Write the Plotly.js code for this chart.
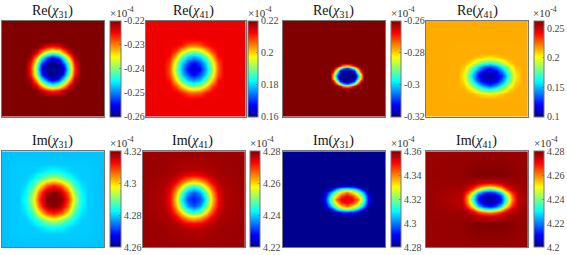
<!DOCTYPE html>
<html>
<head>
<meta charset="utf-8">
<script src="https://cdn.plot.ly/plotly-3.0.1.min.js"></script>
<style>html,body{margin:0;padding:0;background:#fff}</style>
</head>
<body>
<div id="chart" style="width:567px;height:255px"></div>
<script>
// Panel titles and colour-bar ticks
const titles = ['Re(<i>χ</i><sub>31</sub>)','Re(<i>χ</i><sub>41</sub>)','Re(<i>χ</i><sub>31</sub>)','Re(<i>χ</i><sub>41</sub>)',
                'Im(<i>χ</i><sub>31</sub>)','Im(<i>χ</i><sub>41</sub>)','Im(<i>χ</i><sub>31</sub>)','Im(<i>χ</i><sub>41</sub>)'];
const ranges = [[-0.26,-0.22],[0.16,0.22],[-0.32,-0.26],[0.1,0.263],[4.26,4.32],[4.22,4.28],[4.28,4.36],[4.2,4.28]];
const ticks = [[-0.26,-0.25,-0.24,-0.23,-0.22],[0.16,0.18,0.2,0.22],[-0.32,-0.3,-0.28,-0.26],[0.1,0.15,0.2,0.25],
               [4.26,4.28,4.3,4.32],[4.22,4.24,4.26,4.28],[4.28,4.3,4.32,4.34,4.36],[4.2,4.22,4.24,4.26,4.28]];

// Sample positions read across each map (same units as the map's axes)
const x1 = [0,23.8,29.3,34.8,40.3,45.8,51.3,56.8,62.3,67.8,73.3,78.8,102.5];
const y1 = [0,20.5,26,31.5,37,42.5,48,53.5,59,64.5,70,75.5,96];
const x2 = [0,17.6,23.6,29.6,35.6,41.6,47.6,53.6,59.6,65.6,71.6,77.6,100];
const y2 = [0,17.6,23.6,29.6,35.6,41.6,47.6,53.6,59.6,65.6,71.6,77.6,96];
const x3 = [0,46.6,50.1,53.5,57,60.4,63.8,67.2,70.7,74.1,77.6,81,102];
const y3 = [0,42.3,44.8,47.4,49.9,52.5,55,57.5,60.1,62.6,65.2,67.7,96];
const x4 = [0,31.6,38,44.4,50.8,57.2,63.6,70,76.4,82.8,89.2,95.6,102.3];
const y4 = [0,32.8,37.3,41.8,46.3,50.8,55.3,59.8,64.3,68.8,73.3,77.8,96];
const x5 = [0,16.5,23.5,30.5,37.5,44.5,51.5,58.5,65.5,72.5,79.5,86.5,102.5];
const y5 = [0,12.9,19.9,26.9,33.9,40.9,47.9,54.9,61.9,68.9,75.9,82.9,96];
const x6 = [0,21.3,27.3,33.3,39.3,45.3,51.3,57.3,63.3,69.3,75.3,81.3,102.3];
const y6 = [0,18,24,30,36,42,48,54,60,66,72,78,96];
const x7 = [0,36.7,42.1,47.5,52.9,58.3,63.7,69.1,74.5,79.9,85.3,90.7,102];
const y7 = [0,31.5,34.8,38.1,41.4,44.7,48,51.3,54.6,57.9,61.2,64.5,96];
const x8 = [0,35.6,41.2,46.8,52.4,58,63.6,69.2,74.8,80.4,86,91.6,102.3];
const y8 = [0,23.7,30.7,34.1,37.5,40.9,44.3,47.7,51.1,54.5,57.9,61.3,64.7,71.7,96];

// Map values (in units of 1e-4)
const z1 = [
[-0.22,-0.22,-0.22,-0.22,-0.22,-0.22,-0.22,-0.22,-0.22,-0.22,-0.22,-0.22,-0.22],
[-0.22,-0.22,-0.22,-0.22,-0.22,-0.22,-0.22,-0.22,-0.22,-0.22,-0.22,-0.22,-0.22],
[-0.22,-0.22,-0.22,-0.22,-0.222,-0.2252,-0.2264,-0.2252,-0.222,-0.22,-0.22,-0.22,-0.22],
[-0.22,-0.22,-0.22,-0.224,-0.232,-0.2388,-0.2412,-0.2388,-0.232,-0.224,-0.22,-0.22,-0.22],
[-0.22,-0.22,-0.222,-0.232,-0.244,-0.2528,-0.2568,-0.2528,-0.244,-0.232,-0.222,-0.22,-0.22],
[-0.22,-0.22,-0.2252,-0.2388,-0.2528,-0.26,-0.26,-0.26,-0.2528,-0.2388,-0.2252,-0.22,-0.22],
[-0.22,-0.22,-0.2264,-0.2412,-0.2568,-0.26,-0.26,-0.26,-0.2568,-0.2412,-0.2264,-0.22,-0.22],
[-0.22,-0.22,-0.2252,-0.2388,-0.2528,-0.26,-0.26,-0.26,-0.2528,-0.2388,-0.2252,-0.22,-0.22],
[-0.22,-0.22,-0.222,-0.232,-0.244,-0.2528,-0.2568,-0.2528,-0.244,-0.232,-0.222,-0.22,-0.22],
[-0.22,-0.22,-0.22,-0.224,-0.232,-0.2388,-0.2412,-0.2388,-0.232,-0.224,-0.22,-0.22,-0.22],
[-0.22,-0.22,-0.22,-0.22,-0.222,-0.2252,-0.2264,-0.2252,-0.222,-0.22,-0.22,-0.22,-0.22],
[-0.22,-0.22,-0.22,-0.22,-0.22,-0.22,-0.22,-0.22,-0.22,-0.22,-0.22,-0.22,-0.22],
[-0.22,-0.22,-0.22,-0.22,-0.22,-0.22,-0.22,-0.22,-0.22,-0.22,-0.22,-0.22,-0.22]];
const z2 = [
[0.2136,0.2136,0.2136,0.2136,0.2136,0.2136,0.2136,0.2136,0.2136,0.2136,0.2136,0.2136,0.2136],
[0.2136,0.2134,0.2134,0.2134,0.2134,0.2134,0.2134,0.2134,0.2134,0.2134,0.2134,0.2134,0.2136],
[0.2136,0.2134,0.2134,0.2134,0.2116,0.208,0.2068,0.208,0.2116,0.2134,0.2134,0.2134,0.2136],
[0.2136,0.2134,0.2134,0.2092,0.2008,0.1942,0.1912,0.1942,0.2008,0.2092,0.2134,0.2134,0.2136],
[0.2136,0.2134,0.2116,0.2008,0.1882,0.1804,0.1774,0.1804,0.1882,0.2008,0.2116,0.2134,0.2136],
[0.2136,0.2134,0.208,0.1942,0.1804,0.172,0.1672,0.172,0.1804,0.1942,0.208,0.2134,0.2136],
[0.2136,0.2134,0.2068,0.1912,0.1774,0.1672,0.1636,0.1672,0.1774,0.1912,0.2068,0.2134,0.2136],
[0.2136,0.2134,0.208,0.1942,0.1804,0.172,0.1672,0.172,0.1804,0.1942,0.208,0.2134,0.2136],
[0.2136,0.2134,0.2116,0.2008,0.1882,0.1804,0.1774,0.1804,0.1882,0.2008,0.2116,0.2134,0.2136],
[0.2136,0.2134,0.2134,0.2092,0.2008,0.1942,0.1912,0.1942,0.2008,0.2092,0.2134,0.2134,0.2136],
[0.2136,0.2134,0.2134,0.2134,0.2116,0.208,0.2068,0.208,0.2116,0.2134,0.2134,0.2134,0.2136],
[0.2136,0.2134,0.2134,0.2134,0.2134,0.2134,0.2134,0.2134,0.2134,0.2134,0.2134,0.2134,0.2136],
[0.2136,0.2136,0.2136,0.2136,0.2136,0.2136,0.2136,0.2136,0.2136,0.2136,0.2136,0.2136,0.2136]];
const z3 = [
[-0.26,-0.26,-0.26,-0.26,-0.26,-0.26,-0.26,-0.26,-0.26,-0.26,-0.26,-0.26,-0.26],
[-0.26,-0.26,-0.26,-0.26,-0.26,-0.26,-0.26,-0.26,-0.26,-0.26,-0.26,-0.26,-0.26],
[-0.26,-0.26,-0.26,-0.26,-0.266,-0.2762,-0.2798,-0.2762,-0.266,-0.26,-0.26,-0.26,-0.26],
[-0.26,-0.26,-0.26,-0.2732,-0.29,-0.302,-0.308,-0.302,-0.29,-0.2732,-0.26,-0.26,-0.26],
[-0.26,-0.26,-0.266,-0.29,-0.3128,-0.3188,-0.32,-0.3188,-0.3128,-0.29,-0.266,-0.26,-0.26],
[-0.26,-0.26,-0.2762,-0.302,-0.3188,-0.32,-0.32,-0.32,-0.3188,-0.302,-0.2762,-0.26,-0.26],
[-0.26,-0.26,-0.2798,-0.308,-0.32,-0.32,-0.32,-0.32,-0.32,-0.308,-0.2798,-0.26,-0.26],
[-0.26,-0.26,-0.2762,-0.302,-0.3188,-0.32,-0.32,-0.32,-0.3188,-0.302,-0.2762,-0.26,-0.26],
[-0.26,-0.26,-0.266,-0.29,-0.3128,-0.3188,-0.32,-0.3188,-0.3128,-0.29,-0.266,-0.26,-0.26],
[-0.26,-0.26,-0.26,-0.2732,-0.29,-0.302,-0.308,-0.302,-0.29,-0.2732,-0.26,-0.26,-0.26],
[-0.26,-0.26,-0.26,-0.26,-0.266,-0.2762,-0.2798,-0.2762,-0.266,-0.26,-0.26,-0.26,-0.26],
[-0.26,-0.26,-0.26,-0.26,-0.26,-0.26,-0.26,-0.26,-0.26,-0.26,-0.26,-0.26,-0.26],
[-0.26,-0.26,-0.26,-0.26,-0.26,-0.26,-0.26,-0.26,-0.26,-0.26,-0.26,-0.26,-0.26]];
const z4 = [
[0.2154,0.2154,0.2154,0.2154,0.2154,0.2154,0.2154,0.2154,0.2154,0.2154,0.2154,0.2154,0.2154],
[0.2154,0.2149,0.2149,0.2149,0.2149,0.2149,0.2149,0.2149,0.2149,0.2149,0.2149,0.2149,0.2154],
[0.2154,0.2149,0.2149,0.2149,0.2108,0.206,0.2035,0.206,0.2108,0.2149,0.2149,0.2149,0.2154],
[0.2154,0.2149,0.2149,0.2084,0.1913,0.1766,0.1685,0.1766,0.1913,0.2084,0.2149,0.2149,0.2154],
[0.2154,0.2149,0.2108,0.1913,0.1611,0.1391,0.1261,0.1391,0.1611,0.1913,0.2108,0.2149,0.2154],
[0.2154,0.2149,0.206,0.1766,0.1391,0.1147,0.1114,0.1147,0.1391,0.1766,0.206,0.2149,0.2154],
[0.2154,0.2149,0.2035,0.1685,0.1261,0.1114,0.1,0.1114,0.1261,0.1685,0.2035,0.2149,0.2154],
[0.2154,0.2149,0.206,0.1766,0.1391,0.1147,0.1114,0.1147,0.1391,0.1766,0.206,0.2149,0.2154],
[0.2154,0.2149,0.2108,0.1913,0.1611,0.1391,0.1261,0.1391,0.1611,0.1913,0.2108,0.2149,0.2154],
[0.2154,0.2149,0.2149,0.2084,0.1913,0.1766,0.1685,0.1766,0.1913,0.2084,0.2149,0.2149,0.2154],
[0.2154,0.2149,0.2149,0.2149,0.2108,0.206,0.2035,0.206,0.2108,0.2149,0.2149,0.2149,0.2154],
[0.2154,0.2149,0.2149,0.2149,0.2149,0.2149,0.2149,0.2149,0.2149,0.2149,0.2149,0.2149,0.2154],
[0.2154,0.2154,0.2154,0.2154,0.2154,0.2154,0.2154,0.2154,0.2154,0.2154,0.2154,0.2154,0.2154]];
const z5 = [
[4.2789,4.2789,4.2789,4.2789,4.2789,4.2789,4.2789,4.2789,4.2789,4.2789,4.2789,4.2789,4.2789],
[4.2789,4.2795,4.2795,4.2795,4.2795,4.2795,4.2795,4.2795,4.2795,4.2795,4.2795,4.2795,4.2789],
[4.2789,4.2795,4.2795,4.2795,4.2807,4.2822,4.2831,4.2822,4.2807,4.2795,4.2795,4.2795,4.2789],
[4.2789,4.2795,4.2795,4.2816,4.2858,4.2912,4.2942,4.2912,4.2858,4.2816,4.2795,4.2795,4.2789],
[4.2789,4.2795,4.2807,4.2858,4.2978,4.3074,4.311,4.3074,4.2978,4.2858,4.2807,4.2795,4.2789],
[4.2789,4.2795,4.2822,4.2912,4.3074,4.317,4.32,4.317,4.3074,4.2912,4.2822,4.2795,4.2789],
[4.2789,4.2795,4.2831,4.2942,4.311,4.32,4.32,4.32,4.311,4.2942,4.2831,4.2795,4.2789],
[4.2789,4.2795,4.2822,4.2912,4.3074,4.317,4.32,4.317,4.3074,4.2912,4.2822,4.2795,4.2789],
[4.2789,4.2795,4.2807,4.2858,4.2978,4.3074,4.311,4.3074,4.2978,4.2858,4.2807,4.2795,4.2789],
[4.2789,4.2795,4.2795,4.2816,4.2858,4.2912,4.2942,4.2912,4.2858,4.2816,4.2795,4.2795,4.2789],
[4.2789,4.2795,4.2795,4.2795,4.2807,4.2822,4.2831,4.2822,4.2807,4.2795,4.2795,4.2795,4.2789],
[4.2789,4.2795,4.2795,4.2795,4.2795,4.2795,4.2795,4.2795,4.2795,4.2795,4.2795,4.2795,4.2789],
[4.2789,4.2789,4.2789,4.2789,4.2789,4.2789,4.2789,4.2789,4.2789,4.2789,4.2789,4.2789,4.2789]];
const z6 = [
[4.2785,4.2785,4.2785,4.2785,4.2785,4.2785,4.2785,4.2785,4.2785,4.2785,4.2785,4.2785,4.2785],
[4.2785,4.2783,4.278,4.2776,4.2773,4.277,4.277,4.277,4.2773,4.2776,4.278,4.2783,4.2785],
[4.2785,4.278,4.2775,4.277,4.2752,4.2731,4.2722,4.2731,4.2752,4.277,4.2775,4.278,4.2785],
[4.2785,4.2776,4.277,4.274,4.2674,4.262,4.2596,4.262,4.2674,4.274,4.277,4.2776,4.2785],
[4.2785,4.2773,4.2752,4.2674,4.2566,4.2464,4.2422,4.2464,4.2566,4.2674,4.2752,4.2773,4.2785],
[4.2785,4.277,4.2731,4.262,4.2464,4.2356,4.2314,4.2356,4.2464,4.262,4.2731,4.277,4.2785],
[4.2785,4.277,4.2722,4.2596,4.2422,4.2314,4.229,4.2314,4.2422,4.2596,4.2722,4.277,4.2785],
[4.2785,4.277,4.2731,4.262,4.2464,4.2356,4.2314,4.2356,4.2464,4.262,4.2731,4.277,4.2785],
[4.2785,4.2773,4.2752,4.2674,4.2566,4.2464,4.2422,4.2464,4.2566,4.2674,4.2752,4.2773,4.2785],
[4.2785,4.2776,4.277,4.274,4.2674,4.262,4.2596,4.262,4.2674,4.274,4.277,4.2776,4.2785],
[4.2785,4.278,4.2775,4.277,4.2752,4.2731,4.2722,4.2731,4.2752,4.277,4.2775,4.278,4.2785],
[4.2785,4.2783,4.278,4.2776,4.2773,4.277,4.277,4.277,4.2773,4.2776,4.278,4.2783,4.2785],
[4.2785,4.2785,4.2785,4.2785,4.2785,4.2785,4.2785,4.2785,4.2785,4.2785,4.2785,4.2785,4.2785]];
const z7 = [
[4.28,4.28,4.28,4.28,4.28,4.28,4.28,4.28,4.28,4.28,4.28,4.28,4.28],
[4.28,4.28,4.28,4.28,4.28,4.28,4.28,4.28,4.28,4.28,4.28,4.28,4.28],
[4.28,4.28,4.28,4.28,4.284,4.2888,4.2912,4.2888,4.284,4.28,4.28,4.28,4.28],
[4.28,4.28,4.28,4.2872,4.304,4.3152,4.3192,4.3152,4.304,4.2872,4.28,4.28,4.28],
[4.28,4.28,4.284,4.304,4.3216,4.3328,4.3416,4.3328,4.3216,4.304,4.284,4.28,4.28],
[4.28,4.28,4.2888,4.3152,4.3328,4.3472,4.3512,4.3472,4.3328,4.3152,4.2888,4.28,4.28],
[4.28,4.28,4.2912,4.3192,4.3416,4.3512,4.3544,4.3512,4.3416,4.3192,4.2912,4.28,4.28],
[4.28,4.28,4.2888,4.3152,4.3328,4.3472,4.3512,4.3472,4.3328,4.3152,4.2888,4.28,4.28],
[4.28,4.28,4.284,4.304,4.3216,4.3328,4.3416,4.3328,4.3216,4.304,4.284,4.28,4.28],
[4.28,4.28,4.28,4.2872,4.304,4.3152,4.3192,4.3152,4.304,4.2872,4.28,4.28,4.28],
[4.28,4.28,4.28,4.28,4.284,4.2888,4.2912,4.2888,4.284,4.28,4.28,4.28,4.28],
[4.28,4.28,4.28,4.28,4.28,4.28,4.28,4.28,4.28,4.28,4.28,4.28,4.28],
[4.28,4.28,4.28,4.28,4.28,4.28,4.28,4.28,4.28,4.28,4.28,4.28,4.28]];
const z8 = [
[4.278,4.278,4.278,4.278,4.278,4.278,4.278,4.278,4.278,4.278,4.278,4.278,4.278],
[4.278,4.2785,4.279,4.2795,4.28,4.28,4.28,4.28,4.28,4.2795,4.279,4.2785,4.278],
[4.278,4.278,4.2776,4.2768,4.2756,4.2744,4.2744,4.2744,4.2756,4.2768,4.2776,4.278,4.278],
[4.278,4.2776,4.2764,4.2744,4.2672,4.2624,4.2592,4.2624,4.2672,4.2744,4.2764,4.2776,4.278],
[4.278,4.2768,4.2744,4.264,4.2504,4.2376,4.2328,4.2376,4.2504,4.264,4.2744,4.2768,4.278],
[4.278,4.2762,4.2672,4.2504,4.228,4.2152,4.2112,4.2152,4.228,4.2504,4.2672,4.2762,4.278],
[4.278,4.2758,4.2624,4.2376,4.2152,4.2056,4.2032,4.2056,4.2152,4.2376,4.2624,4.2758,4.278],
[4.278,4.2756,4.2592,4.2328,4.2112,4.2032,4.2016,4.2032,4.2112,4.2328,4.2592,4.2756,4.278],
[4.278,4.2758,4.2624,4.2376,4.2152,4.2056,4.2032,4.2056,4.2152,4.2376,4.2624,4.2758,4.278],
[4.278,4.2762,4.2672,4.2504,4.228,4.2152,4.2112,4.2152,4.228,4.2504,4.2672,4.2762,4.278],
[4.278,4.2768,4.2744,4.264,4.2504,4.2376,4.2328,4.2376,4.2504,4.264,4.2744,4.2768,4.278],
[4.278,4.2776,4.2764,4.2744,4.2672,4.2624,4.2592,4.2624,4.2672,4.2744,4.2764,4.2776,4.278],
[4.278,4.278,4.2776,4.2768,4.2756,4.2744,4.2744,4.2744,4.2756,4.2768,4.2776,4.278,4.278],
[4.278,4.2785,4.279,4.2795,4.28,4.28,4.28,4.28,4.28,4.2795,4.279,4.2785,4.278],
[4.278,4.278,4.278,4.278,4.278,4.278,4.278,4.278,4.278,4.278,4.278,4.278,4.278]];

const xs = [x1,x2,x3,x4,x5,x6,x7,x8];
const ys = [y1,y2,y3,y4,y5,y6,y7,y8];
const zs = [z1,z2,z3,z4,z5,z6,z7,z8];

const W = 567, H = 255;
// Layout in page pixels: [left, right, top, bottom, barLeft, barRight, titleCentre, scaleLeft]
const boxes = [
 [1.5,104,20.7,116.7,109.5,120,52,110],
 [145.7,245.7,20.7,116.7,247.7,257.5,193,248],
 [283,385,20.7,116.7,390.7,401,333,391],
 [425.7,528,20.7,116.7,533.7,543.5,477,533],
 [1.5,104,151.3,247.3,109.5,120,52,110],
 [142.7,245,151.3,247.3,250.3,260,192,250],
 [283,385,151.3,247.3,390.7,401,333,391],
 [425.7,528,151.3,247.3,533.7,543.5,476,534]
];
const jet = [[0,'#00008f'],[0.125,'#0000ff'],[0.375,'#00ffff'],[0.625,'#ffff00'],[0.875,'#ff0000'],[1,'#800000']];
const serif = 'Liberation Serif, Times New Roman, serif';
const data = [], annotations = [];
const layout = {width:W,height:H,margin:{l:0,r:0,t:0,b:0},paper_bgcolor:'#fff',plot_bgcolor:'#fff',showlegend:false,annotations};

boxes.forEach((b,i)=>{
  const n = i+1, sfx = n===1?'':n;
  data.push({
    type:'heatmap', x:xs[i], y:ys[i], z:zs[i], xaxis:'x'+sfx, yaxis:'y'+sfx,
    zmin:ranges[i][0], zmax:ranges[i][1], colorscale:jet, zsmooth:'best', hoverinfo:'skip',
    colorbar:{
      x:b[4]/W, xanchor:'left', xpad:0, y:1-b[2]/H, yanchor:'top', ypad:0,
      lenmode:'pixels', len:b[3]-b[2], thicknessmode:'pixels', thickness:b[5]-b[4],
      outlinecolor:'#777', outlinewidth:1, borderwidth:0,
      tickmode:'array', tickvals:ticks[i], ticktext:ticks[i].map(String),
      ticks:'inside', ticklen:2, tickcolor:'#555', tickwidth:0.5,
      tickfont:{family:serif,size:10,color:'#444'}
    }
  });
  const axis = {showgrid:false,zeroline:false,showticklabels:false,ticks:'',showline:true,mirror:true,linecolor:'#777',linewidth:1};
  layout['xaxis'+sfx] = Object.assign({},axis,{domain:[b[0]/W,b[1]/W],range:[0,b[1]-b[0]],anchor:'y'+sfx});
  layout['yaxis'+sfx] = Object.assign({},axis,{domain:[1-b[3]/H,1-b[2]/H],range:[b[3]-b[2],0],anchor:'x'+sfx});
  annotations.push({xref:'paper',yref:'paper',x:b[6]/W,y:1-(b[2]-9.5)/H,xanchor:'center',yanchor:'middle',showarrow:false,
    text:titles[i],font:{family:serif,size:14,color:'#111'}});
  annotations.push({xref:'paper',yref:'paper',x:b[7]/W,y:1-(b[2]-9)/H,xanchor:'left',yanchor:'middle',showarrow:false,
    xshift:-2,text:'×10<sup>-4</sup>',font:{family:serif,size:11,color:'#333'}});
});
Plotly.newPlot('chart',data,layout,{staticPlot:true,displayModeBar:false});
</script>
</body>
</html>
